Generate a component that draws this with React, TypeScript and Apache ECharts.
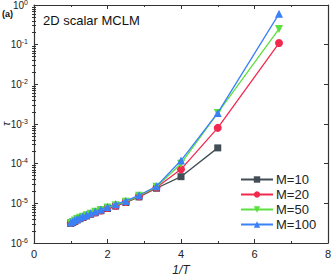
import React, { useEffect, useRef } from "react";
import * as echarts from "echarts";

const xVals = [1, 1.053, 1.111, 1.176, 1.25, 1.333, 1.429, 1.538, 1.667, 1.818, 2, 2.222, 2.5, 2.857, 3.333, 4, 5, 6.667];

const m10 = [3.1e-6, 3.3e-6, 3.5e-6, 3.8e-6, 4.1e-6, 4.4e-6, 4.8e-6, 5.3e-6, 5.8e-6, 6.5e-6, 7.4e-6, 8.5e-6, 1.05e-5, 1.45e-5, 2.4e-5, 4.7e-5, 2.5e-4];
const m20 = [3.2e-6, 3.4e-6, 3.6e-6, 3.9e-6, 4.2e-6, 4.5e-6, 4.9e-6, 5.4e-6, 5.9e-6, 6.6e-6, 7.6e-6, 8.7e-6, 1.08e-5, 1.5e-5, 2.5e-5, 7.2e-5, 8e-4, 0.11];
const m50 = [3.2e-6, 3.4e-6, 3.7e-6, 4.0e-6, 4.3e-6, 4.6e-6, 5.0e-6, 5.5e-6, 6.1e-6, 6.8e-6, 7.8e-6, 9e-6, 1.1e-5, 1.55e-5, 2.6e-5, 1.0e-4, 1.9e-3, 0.25];
const m100 = [3.3e-6, 3.5e-6, 3.8e-6, 4.1e-6, 4.4e-6, 4.7e-6, 5.1e-6, 5.6e-6, 6.2e-6, 7.0e-6, 8.1e-6, 9.5e-6, 1.15e-5, 1.6e-5, 2.7e-5, 1.2e-4, 1.9e-3, 0.6];

const seriesNames = ["M=10", "M=20", "M=50", "M=100"];
const seriesData = [m10, m20, m50, m100];
const colors = ["#434d55", "#f2294f", "#5be03f", "#3a80f6"];
const symbols = ["rect", "circle", "path://M0,0 L10,0 L5,9 Z", "triangle"];
const symbolSizes = [7, 8, 8, 8];

const xTicks = [0, 2, 4, 6, 8];
const yMinorTicks: number[] = [];
for (let e = -6; e < 0; e++) {
  for (let k = 2; k <= 9; k++) yMinorTicks.push(k * Math.pow(10, e));
}

export default function App() {
  const ref = useRef<HTMLDivElement>(null);
  useEffect(() => {
    if (!ref.current) return;
    const chart = echarts.init(ref.current, null, { renderer: "svg" });
    const font = "Liberation Sans, Arial, sans-serif";
    const axisCommonX = {
      type: "value" as const,
      min: 0,
      max: 8,
      interval: 2,
      splitLine: { show: false },
      axisLine: { show: true, onZero: false, lineStyle: { color: "#333", width: 1.2 } },
      axisTick: { show: true, inside: true, length: 4, lineStyle: { color: "#333" } },
      minorTick: { show: true, splitNumber: 2, length: 2, lineStyle: { color: "#333" } },
    };
    const yLogCommon = {
      type: "log" as const,
      min: 1e-6,
      max: 1,
      logBase: 10,
      splitLine: { show: false },
      axisLine: { show: true, onZero: false, lineStyle: { color: "#333", width: 1.2 } },
      axisTick: { show: true, inside: true, length: 4, lineStyle: { color: "#333" } },
    };
    const yMinorCommon = {
      type: "log" as const,
      min: 1e-6,
      max: 1,
      logBase: 10,
      splitLine: { show: false },
      axisLine: { show: false },
      axisLabel: { show: false },
      axisTick: { show: true, inside: true, length: 2, customValues: yMinorTicks, lineStyle: { color: "#333" } },
    };
    chart.setOption({
      animation: false,
      textStyle: { fontFamily: font },
      grid: { left: 34, right: 4, top: 5, bottom: 33, outerBoundsMode: "none", containLabel: false },
      graphic: [
        { type: "text", x: 43, y: 14, style: { text: "2D scalar MCLM", font: "13px " + font, fill: "#111" } },
        { type: "text", x: 2, y: 9, style: { text: "(a)", font: "bold 9px " + font, fill: "#111" } },
        {
          type: "text",
          x: 6,
          y: 124,
          rotation: Math.PI / 2,
          style: { text: "τ", font: "italic 11px " + font, fill: "#222", align: "center", verticalAlign: "middle" },
        },
      ],
      legend: {
        orient: "vertical",
        left: 240,
        top: 173,
        padding: 0,
        itemWidth: 32,
        itemHeight: 8,
        itemGap: 2,
        textStyle: { fontSize: 13, lineHeight: 13, color: "#222", fontFamily: font, padding: [0, 0, 0, -2] },
        data: seriesNames,
      },
      xAxis: [
        {
          ...axisCommonX,
          position: "bottom",
          name: "1/T",
          nameLocation: "middle",
          nameGap: 20,
          nameTextStyle: { fontStyle: "italic", fontSize: 12, color: "#222" },
          axisLabel: { show: true, fontSize: 11, color: "#222", margin: 5, customValues: xTicks },
        },
        { ...axisCommonX, position: "top", axisLabel: { show: false } },
      ],
      yAxis: [
        {
          ...yLogCommon,
          position: "left",
          axisLabel: {
            show: true,
            margin: 6,
            formatter: (v: number) => {
              const e = Math.round(Math.log10(v));
              return "{b|10}{s|" + e + "}";
            },
            rich: {
              b: { fontSize: 10, color: "#222", fontFamily: font },
              s: { fontSize: 7, color: "#222", fontFamily: font, padding: [0, 0, 6, 0] },
            },
          },
        },
        { ...yLogCommon, position: "right", axisLabel: { show: false } },
        { ...yMinorCommon, position: "left" },
        { ...yMinorCommon, position: "right" },
      ],
      series: seriesNames.map((name, i) => ({
        name,
        type: "line",
        xAxisIndex: 0,
        yAxisIndex: 0,
        data: seriesData[i].map((y, j) => [xVals[j], y]),
        symbol: symbols[i],
        symbolSize: symbolSizes[i],
        showSymbol: true,
        color: colors[i],
        lineStyle: { width: 1.3, color: colors[i] },
        itemStyle: { color: colors[i] },
        z: 2 + i,
      })),
    });
    return () => chart.dispose();
  }, []);
  return <div ref={ref} style={{ width: 332, height: 276, position: "absolute", left: 0, top: 0 }} />;
}
